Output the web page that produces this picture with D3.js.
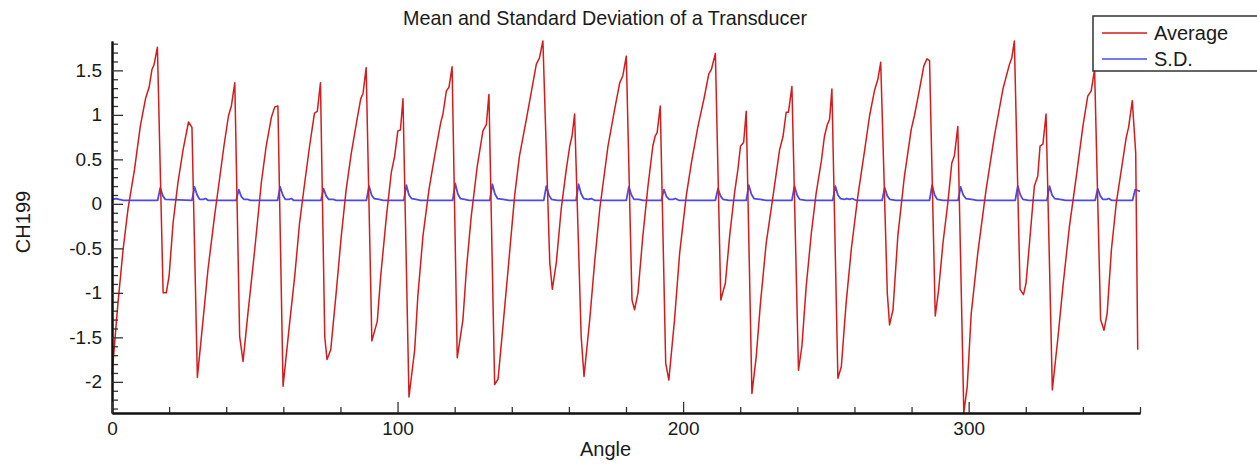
<!DOCTYPE html>
<html>
<head>
<meta charset="utf-8">
<script src="https://cdn.jsdelivr.net/npm/d3@7"></script>
<style>
  html, body { margin: 0; padding: 0; background: #fff; }
  text { font-family: Arial, "Liberation Sans", sans-serif; fill: #1a1a1a; }
</style>
</head>
<body>
<div id="chart"></div>
<script>
var chartTitle = 'Mean and Standard Deviation of a Transducer';
var xLabel = 'Angle';
var yLabel = 'CH199';
var seriesNames = ['Average', 'S.D.'];
var colors = ['#d41c1c', '#4b4be8'];

var xMajorTicks = [0, 100, 200, 300];
var xMinorTicks = [20, 40, 60, 80, 120, 140, 160, 180, 220, 240, 260, 280, 320, 340, 360];
var yMajorTicks = [1.5, 1, 0.5, 0, -0.5, -1, -1.5, -2];
var yTickLabels = ['1.5', '1', '0.5', '0', '-0.5', '-1', '-1.5', '-2'];
var yMinorTicks = [1.8, 1.7, 1.6, 1.4, 1.3, 1.2, 1.1, 0.9, 0.8, 0.7, 0.6, 0.4, 0.3, 0.2, 0.1,
  -0.1, -0.2, -0.3, -0.4, -0.6, -0.7, -0.8, -0.9, -1.1, -1.2, -1.3, -1.4,
  -1.6, -1.7, -1.8, -1.9, -2.1, -2.2, -2.3];

// [angle, value]
var average = [
  [0, -1.92], [2.1, -1.11], [3.9, -0.51], [5.6, -0.06], [7.9, 0.39], [9.9, 0.87], [11.8, 1.19], [13, 1.31], [14, 1.51], [14.7, 1.56], [15.9, 1.76],
  [17.9, -1.0], [19, -1.0], [20, -0.81], [21.4, -0.21], [23.1, 0.24], [24.9, 0.61], [26.8, 0.92], [28, 0.86],
  [29.9, -1.95], [31.9, -1.30], [33.6, -0.74], [35.9, -0.14], [37.5, 0.24], [39.2, 0.65], [40.8, 0.99], [41.8, 1.10], [43, 1.36],
  [44.7, -1.49], [45.9, -1.77], [47.6, -1.23], [50, -0.51], [52.3, 0.24], [54, 0.65], [55.8, 0.97], [57, 1.09], [58.1, 1.10],
  [59.9, -2.05], [62.2, -1.34], [64, -0.81], [65.7, -0.21], [67.5, 0.24], [69.2, 0.65], [70.9, 1.02], [71.9, 1.04], [73, 1.36],
  [74.5, -1.49], [75.3, -1.75], [76.6, -1.64], [78.5, -1.0], [80.3, -0.36], [82, 0.16], [83.8, 0.57], [85.6, 0.91], [87.1, 1.18], [87.9, 1.24], [89, 1.53],
  [91, -1.54], [92.9, -1.32], [94.1, -0.81], [96.1, -0.14], [97.8, 0.35], [99, 0.54], [100.1, 0.82], [101, 0.83], [101.9, 1.18],
  [104, -2.17], [106, -1.64], [107.1, -1.04], [108.9, -0.36], [111, 0.16], [113, 0.54], [115.1, 0.91], [115.9, 1.01], [117.1, 1.27], [118, 1.31], [119.1, 1.54],
  [120.9, -1.73], [122.9, -1.30], [124.1, -0.74], [125.8, -0.14], [127.9, 0.42], [129.9, 0.82], [131.1, 0.89], [132, 1.23],
  [134, -2.03], [135.2, -1.97], [136.9, -1.38], [138.7, -0.74], [141, 0.09], [142.7, 0.54], [145.1, 0.95], [146.8, 1.25], [148.6, 1.57], [149.7, 1.64], [150.9, 1.83],
  [153.3, -0.66], [154.2, -0.96], [155.6, -0.66], [157.3, -0.06], [159.1, 0.39], [160.3, 0.65], [161.1, 0.76], [162, 1.01],
  [164.3, -1.49], [165.3, -1.94], [167.3, -1.30], [169, -0.66], [170.8, -0.06], [173.7, 0.65], [176, 1.06], [177.8, 1.36], [178.9, 1.44], [180.1, 1.66],
  [182.1, -1.08], [183, -1.19], [184.2, -1.0], [185.9, -0.36], [187.7, 0.20], [189.4, 0.65], [190.2, 0.76], [190.9, 0.80], [192, 1.10],
  [193.9, -1.79], [195, -1.98], [197, -1.30], [198.8, -0.55], [201.1, 0.09], [202.9, 0.46], [205.2, 0.87], [207.3, 1.18], [209, 1.46], [209.9, 1.51], [211.3, 1.69],
  [213.2, -1.08], [214.8, -0.89], [216.3, -0.36], [218, 0.12], [219.2, 0.39], [220.1, 0.65], [221.2, 0.69], [222.1, 1.04],
  [224.1, -2.13], [225.6, -1.72], [227.1, -1.11], [229.1, -0.44], [231.5, 0.09], [233.8, 0.61], [235, 0.76], [236.1, 1.03], [236.9, 1.03], [238.1, 1.32],
  [240.4, -1.87], [241.6, -1.60], [243.1, -0.93], [244.9, -0.33], [246.6, 0.12], [248.4, 0.48], [249.5, 0.76], [250.5, 0.89], [251.3, 0.95], [252.1, 1.29],
  [254.2, -1.96], [255.4, -1.83], [257.1, -1.11], [258.9, -0.51], [261.2, 0.09], [263.6, 0.61], [265.3, 0.99], [267, 1.27], [268.2, 1.40], [269.2, 1.59],
  [271.5, -1.0], [272.3, -1.36], [273.5, -1.19], [275.2, -0.36], [277.5, 0.31], [279.9, 0.84], [281, 0.99], [282.8, 1.29], [284.3, 1.55], [285.4, 1.63], [286.3, 1.61],
  [288.3, -1.26], [289.5, -0.96], [291, -0.44], [292.7, 0.01], [294.1, 0.46], [295, 0.54], [296.2, 0.87],
  [298.3, -2.35], [299.5, -2.05], [300.9, -1.23], [303.2, -0.55], [306.1, 0.16], [309, 0.76], [312, 1.29], [314.3, 1.57], [315.1, 1.64], [316, 1.83],
  [318, -0.96], [319.2, -1.02], [320.1, -0.89], [321.3, -0.44], [323, 0.20], [324.2, 0.31], [325, 0.65], [326, 0.67], [327.1, 1.01],
  [329.3, -2.09], [331.3, -1.49], [333, -0.93], [335.3, -0.25], [337.7, 0.31], [340, 0.87], [341.7, 1.21], [342.9, 1.27], [344.1, 1.51],
  [346.2, -1.30], [347.4, -1.42], [348.5, -1.23], [350, -0.51], [351.7, 0.01], [353.5, 0.39], [355.2, 0.75], [356, 0.86], [357.3, 1.16],
  [358.5, 0.57], [359.2, -1.64]
];

var stdDev = [
  [0, 0.05], [1.5, 0.06], [2.5, 0.05], [4, 0.04], [16, 0.04], [16.9, 0.18], [17.8, 0.09], [18.7, 0.05], [28, 0.04], [28.9, 0.19], [29.8, 0.10], [30.7, 0.05],
  [32, 0.05], [32.8, 0.06], [33.6, 0.04], [43.5, 0.04], [44.4, 0.16], [45.3, 0.08], [46.2, 0.05], [47.5, 0.05], [48.5, 0.04],
  [58, 0.04], [58.9, 0.19], [59.8, 0.10], [60.7, 0.05], [62, 0.05], [62.8, 0.06], [63.6, 0.04], [73.2, 0.04], [74.1, 0.17], [75, 0.09], [75.9, 0.05],
  [77.5, 0.05], [78.5, 0.04], [89.1, 0.04], [90, 0.20], [90.9, 0.10], [91.8, 0.06], [93.5, 0.05], [95, 0.04],
  [102.2, 0.04], [103.1, 0.21], [104, 0.10], [104.9, 0.06], [106.5, 0.05], [108, 0.04], [119.3, 0.04], [120.2, 0.23], [121.1, 0.11], [122, 0.06],
  [123.5, 0.05], [125, 0.04], [132.3, 0.04], [133.2, 0.22], [134.1, 0.11], [135, 0.06], [137, 0.05], [139, 0.04],
  [151.2, 0.04], [152.1, 0.20], [153, 0.10], [153.9, 0.05], [156, 0.04], [162.5, 0.04], [163.4, 0.22], [164.3, 0.11], [165.2, 0.06], [166.8, 0.05],
  [167.8, 0.06], [169, 0.04], [180.1, 0.04], [181, 0.19], [181.9, 0.10], [182.8, 0.05], [184.5, 0.05], [186, 0.04],
  [192.4, 0.04], [193.3, 0.16], [194.2, 0.08], [195.1, 0.05], [196.5, 0.05], [197.3, 0.06], [198.5, 0.04], [211.3, 0.04], [212.2, 0.17], [213.1, 0.09],
  [214, 0.05], [216, 0.04], [222.1, 0.04], [223, 0.21], [223.9, 0.11], [224.8, 0.06], [227, 0.05], [229, 0.04],
  [238.1, 0.04], [239, 0.20], [239.9, 0.10], [240.8, 0.05], [243, 0.04], [252.4, 0.04], [253.3, 0.20], [254.2, 0.10], [255.1, 0.06], [256.5, 0.05],
  [257.3, 0.06], [258.3, 0.05], [259.2, 0.06], [260.5, 0.04], [269.7, 0.04], [270.6, 0.18], [271.5, 0.09], [272.4, 0.05], [274.5, 0.04],
  [286.3, 0.04], [287.2, 0.21], [288.1, 0.10], [289, 0.05], [291, 0.04], [296.3, 0.04], [297.2, 0.19], [298.1, 0.10], [299, 0.06], [301, 0.05], [303, 0.04],
  [316.3, 0.04], [317.2, 0.20], [318.1, 0.10], [319, 0.05], [321, 0.04], [327.4, 0.04], [328.3, 0.20], [329.2, 0.10], [330.1, 0.06], [332, 0.05], [334, 0.04],
  [344.3, 0.04], [345.2, 0.17], [346.1, 0.09], [347, 0.05], [348.3, 0.05], [349.1, 0.06], [350, 0.04], [357.4, 0.04], [358.3, 0.16], [359.2, 0.15], [360, 0.14]
];

var W = 1257, H = 465;
var margin = { top: 41, right: 117, bottom: 52, left: 112 };
var width = W - margin.left - margin.right;
var height = H - margin.top - margin.bottom;

var svg = d3.select('#chart')
  .append('svg')
    .attr('width', W)
    .attr('height', H);

var g = svg.append('g')
  .attr('transform', `translate(${margin.left}, ${margin.top})`);

var x = d3.scaleLinear().domain([0, 360]).range([0, width]);
var y = d3.scaleLinear().domain([-2.35, 1.83]).range([height, 0]);

// series lines
var line = d3.line()
  .x(d => x(d[0]))
  .y(d => y(d[1]));

g.append('path')
  .datum(stdDev)
  .attr('fill', 'none')
  .attr('stroke', colors[1])
  .attr('stroke-width', 1.8)
  .attr('stroke-linejoin', 'round')
  .attr('d', line);

g.append('path')
  .datum(average)
  .attr('fill', 'none')
  .attr('stroke', colors[0])
  .attr('stroke-width', 1.5)
  .attr('stroke-linejoin', 'round')
  .attr('d', line);

// axes, ticks point inward
var yMinor = g.append('g')
  .call(d3.axisLeft(y).tickValues(yMinorTicks).tickSize(-6).tickSizeOuter(0).tickFormat(''));
var yMajor = g.append('g')
  .call(d3.axisLeft(y).tickValues(yMajorTicks).tickSize(-11).tickSizeOuter(0).tickPadding(10)
    .tickFormat((d, i) => yTickLabels[i]));

var xMinor = g.append('g')
  .attr('transform', `translate(0, ${height})`)
  .call(d3.axisBottom(x).tickValues(xMinorTicks).tickSize(-6).tickSizeOuter(0).tickFormat(''));
var xMajor = g.append('g')
  .attr('transform', `translate(0, ${height})`)
  .call(d3.axisBottom(x).tickValues(xMajorTicks).tickSize(-11).tickSizeOuter(0).tickPadding(9));

g.selectAll('.domain').attr('stroke', '#111').attr('stroke-width', 2);
g.selectAll('.tick line').attr('stroke', '#333').attr('stroke-width', 1.3);
g.selectAll('.tick text')
  .style('font-size', '19px')
  .style('font-family', 'Arial, "Liberation Sans", sans-serif')
  .attr('fill', '#1a1a1a');

// titles
svg.append('text')
  .attr('x', 605)
  .attr('y', 25)
  .attr('text-anchor', 'middle')
  .attr('textLength', 404)
  .attr('lengthAdjust', 'spacingAndGlyphs')
  .style('font-size', '21px')
  .text(chartTitle);

svg.append('text')
  .attr('x', 605.5)
  .attr('y', 456)
  .attr('text-anchor', 'middle')
  .style('font-size', '20px')
  .text(xLabel);

svg.append('text')
  .attr('transform', 'translate(30, 222) rotate(-90)')
  .attr('text-anchor', 'middle')
  .style('font-size', '20px')
  .text(yLabel);

// legend
var legend = svg.append('g');
legend.append('rect')
  .attr('x', 1093)
  .attr('y', 16)
  .attr('width', 170)
  .attr('height', 55)
  .attr('fill', '#fff')
  .attr('stroke', '#333')
  .attr('stroke-width', 1.5);

seriesNames.forEach(function (name, i) {
  var ly = 33 + i * 26;
  legend.append('line')
    .attr('x1', 1102).attr('x2', 1147)
    .attr('y1', ly).attr('y2', ly)
    .attr('stroke', colors[i])
    .attr('stroke-width', 1.5);
  legend.append('text')
    .attr('x', 1154)
    .attr('y', ly + 7)
    .style('font-size', '20px')
    .text(name);
});
</script>
</body>
</html>
